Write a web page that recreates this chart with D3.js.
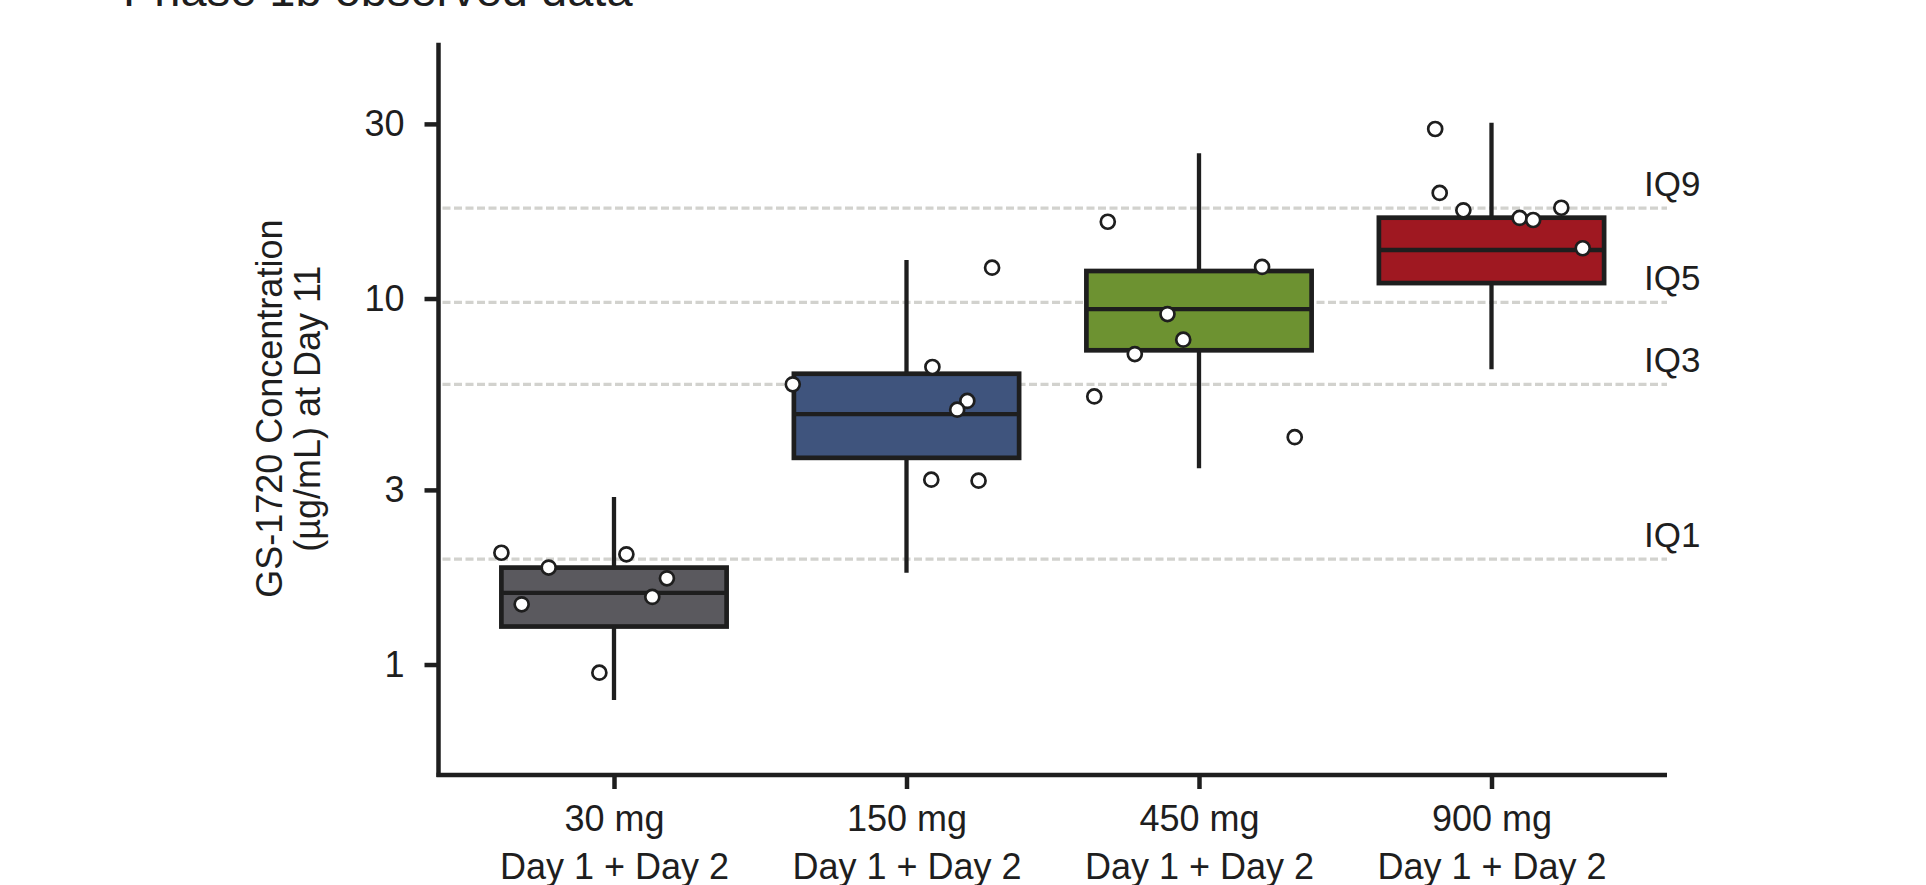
<!DOCTYPE html>
<html>
  <head>
    <meta charset='utf-8' />
    <title>GS-1720 Concentration at Day 11</title>
    <style>
      body {
        margin: 0;
        background-color: #ffffff;
      }
      #chart text {
        font-family: "Liberation Sans", Arial, sans-serif;
        fill: #1e1e1e;
      }
      .axis path, .axis line {
        stroke: #1e1e1e;
        stroke-width: 4.5px;
      }
      .iq-line {
        stroke: #d2d2ce;
        stroke-width: 3.3px;
        stroke-dasharray: 8, 3.5;
      }
      .whisker, .median {
        stroke: #1e1e1e;
        stroke-width: 4.3px;
      }
      .box {
        stroke: #1e1e1e;
        stroke-width: 4.7px;
      }
      .dot {
        fill: #ffffff;
        stroke: #1e1e1e;
        stroke-width: 2.7px;
      }
    </style>
  </head>

<body>
  <svg id="chart" width="1926" height="885"></svg>

  <script src="https://cdnjs.cloudflare.com/ajax/libs/d3/7.8.5/d3.min.js"></script>
  <script>
    // data
    const doses = ["30 mg", "150 mg", "450 mg", "900 mg"];
    const regimen = "Day 1 + Day 2";
    const whiskerLow  = [0.80, 1.78, 3.44, 6.41];
    const q1          = [1.27, 3.67, 7.22, 11.02];
    const median      = [1.57, 4.83, 9.36, 13.57];
    const q3          = [1.84, 6.23, 11.89, 16.63];
    const whiskerHigh = [2.87, 12.74, 24.93, 30.21];

    // individual observations per dose and their horizontal jitter (fraction of half box width)
    const points = [
      [2.02, 1.84, 2.00, 1.72, 1.53, 1.46, 0.95],
      [12.14, 5.83, 6.50, 5.25, 4.97, 3.20, 3.18],
      [16.21, 12.2, 9.07, 7.72, 7.05, 5.40, 4.18],
      [29.05, 19.43, 17.42, 16.6, 16.39, 17.7, 13.72]
    ];
    const jitter = [
      [-1.0, -0.58, 0.11, 0.47, 0.34, -0.82, -0.13],
      [0.76, -1.01, 0.23, 0.54, 0.45, 0.22, 0.64],
      [-0.81, 0.56, -0.28, -0.14, -0.57, -0.93, 0.85],
      [-0.50, -0.46, -0.25, 0.25, 0.37, 0.62, 0.81]
    ];

    const yTicks = [1, 3, 10, 30];
    const iqLevels = [1.94, 5.83, 9.76, 17.67];
    const iqLabels = ["IQ1", "IQ3", "IQ5", "IQ9"];

    const boxColors = ["#5a595e", "#3f547d", "#6d9231", "#9f1821"];

    const svg = d3.select("#chart");

    const left = 438.5;
    const right = 1667;
    const bottom = 775;

    const x = d3.scalePoint()
                .domain(doses)
                .range([left, right])
                .padding(0.6);

    const y = d3.scaleLog()
                .domain([0.5, 50])
                .range([774.7, 42.7]);

    const boxW = x.step() * 0.77;

    // title (cut off at the top, as in the source)
    svg.append("text")
       .attr("x", 123)
       .attr("y", 6)
       .style("font-size", "47px")
       .text("Phase 1b observed data");

    // IQ reference lines
    svg.selectAll(".iq-line")
       .data(iqLevels)
       .enter()
       .append("line")
       .attr("class", "iq-line")
       .attr("x1", left + 4)
       .attr("x2", right)
       .attr("y1", d => y(d))
       .attr("y2", d => y(d));

    svg.selectAll(".iq-label")
       .data(iqLevels)
       .enter()
       .append("text")
       .attr("class", "iq-label")
       .attr("x", 1644)
       .attr("y", d => y(d) - 12)
       .style("font-size", "35px")
       .text((d, i) => iqLabels[i]);

    // boxes
    const groups = svg.selectAll(".dose")
       .data(doses)
       .enter()
       .append("g")
       .attr("class", "dose")
       .attr("transform", d => "translate(" + x(d) + ",0)");

    groups.append("line")
       .attr("class", "whisker")
       .attr("x1", 0).attr("x2", 0)
       .attr("y1", (d, i) => y(whiskerHigh[i]))
       .attr("y2", (d, i) => y(whiskerLow[i]));

    groups.append("rect")
       .attr("class", "box")
       .attr("x", -boxW / 2)
       .attr("width", boxW)
       .attr("y", (d, i) => y(q3[i]))
       .attr("height", (d, i) => y(q1[i]) - y(q3[i]))
       .attr("fill", (d, i) => boxColors[i]);

    groups.append("line")
       .attr("class", "median")
       .attr("x1", -boxW / 2).attr("x2", boxW / 2)
       .attr("y1", (d, i) => y(median[i]))
       .attr("y2", (d, i) => y(median[i]));

    groups.each(function(d, i) {
      d3.select(this).selectAll(".dot")
        .data(points[i])
        .enter()
        .append("circle")
        .attr("class", "dot")
        .attr("cx", (v, j) => jitter[i][j] * boxW / 2)
        .attr("cy", v => y(v))
        .attr("r", 7);
    });

    // axes
    const yAxis = d3.axisLeft(y)
                    .tickValues(yTicks)
                    .tickFormat(d3.format("d"))
                    .tickSize(14)
                    .tickSizeOuter(0)
                    .tickPadding(20);

    const xAxis = d3.axisBottom(x)
                    .tickFormat("")
                    .tickSize(14)
                    .tickSizeOuter(0);

    const gy = svg.append("g")
       .attr("class", "axis")
       .attr("transform", "translate(" + left + ",0)")
       .call(yAxis);
    gy.select(".domain").attr("d", "M0," + y.range()[1] + "V" + (bottom + 2));
    gy.selectAll(".tick text").style("font-size", "36px");

    const gx = svg.append("g")
       .attr("class", "axis")
       .attr("transform", "translate(0," + bottom + ")")
       .call(xAxis);
    gx.select(".domain").attr("d", "M" + (left - 2) + ",0H" + right);

    gx.selectAll(".tick").append("text")
       .attr("y", 56)
       .attr("text-anchor", "middle")
       .style("font-size", "36px")
       .text(d => d);
    gx.selectAll(".tick").append("text")
       .attr("y", 104)
       .attr("text-anchor", "middle")
       .style("font-size", "36px")
       .text(regimen);

    // y axis title
    svg.append("text")
       .attr("transform", "translate(282," + (y.range()[0] + y.range()[1]) / 2 + ") rotate(-90)")
       .attr("text-anchor", "middle")
       .style("font-size", "36px")
       .text("GS-1720 Concentration");
    svg.append("text")
       .attr("transform", "translate(320," + (y.range()[0] + y.range()[1]) / 2 + ") rotate(-90)")
       .attr("text-anchor", "middle")
       .style("font-size", "36px")
       .text("(µg/mL) at Day 11");
  </script>
</body>
</html>
